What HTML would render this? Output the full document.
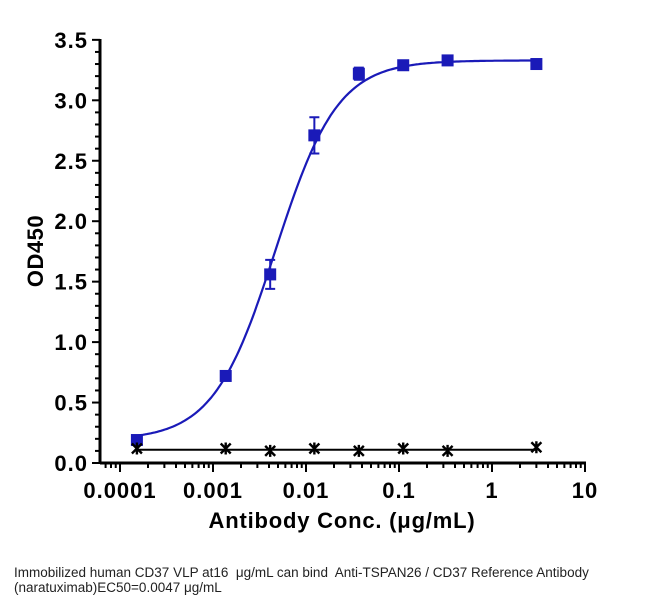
<!DOCTYPE html>
<html><head><meta charset="utf-8"><style>
body{margin:0;background:#fff;width:660px;height:604px;overflow:hidden;font-family:"Liberation Sans",sans-serif}
svg{position:absolute;left:0;top:0}
.cap{position:absolute;left:14px;top:565px;font-size:13.5px;line-height:15px;color:#222;font-family:"Liberation Sans","Noto Sans CJK SC",sans-serif}
</style></head><body>
<svg width="660" height="604">
<g id="axes"></g><g id="marks"></g>
<text x="342" y="528" text-anchor="middle" font-size="22" font-weight="bold" letter-spacing="0.8">Antibody Conc. (μg/mL)</text>
<text transform="translate(43,251) rotate(-90)" text-anchor="middle" font-size="22" font-weight="bold" letter-spacing="0.5">OD450</text>
</svg>
<div class="cap">Immobilized human CD37 VLP at16&nbsp; μg/mL can bind&nbsp; Anti-TSPAN26 / CD37 Reference Antibody<br>(naratuximab)EC50=0.0047 μg/mL</div>
<script>
const conc=[0.000152,0.00137,0.00412,0.0123,0.037,0.111,0.333,3];
const od=[0.19,0.72,1.56,2.71,3.22,3.29,3.33,3.30];
const err=[0.02,0.03,0.12,0.15,0.05,0.02,0.02,0.02];
const ctrl=[0.12,0.12,0.10,0.12,0.10,0.12,0.10,0.13];
const xTicks=[0.0001,0.001,0.01,0.1,1,10];
const xTickLabels=["0.0001","0.001","0.01","0.1","1","10"];
const yTicks=[0,0.5,1,1.5,2,2.5,3,3.5];
const fitBottom=0.19,fitTop=3.33,fitEC50=0.0047,fitHill=1.3;
const NS="http://www.w3.org/2000/svg";
const X=v=>120+(Math.log10(v)+4)*93;
const Y=v=>463-v*120.9;
function mk(p,t,a){const e=document.createElementNS(NS,t);for(const k in a)e.setAttribute(k,a[k]);p.appendChild(e);return e;}
const ax=document.getElementById('axes'),mg=document.getElementById('marks');
let l=mk(ax,'line',{x1:100,y1:463,x2:586,y2:463,stroke:'#000','stroke-width':3});


l=mk(ax,'line',{x1:100,y1:463,x2:100,y2:39,stroke:'#000','stroke-width':3});


for(let i=0;i<=35;i++){const v=i/10,maj=i%5==0;mk(ax,'line',{x1:maj?92:95,x2:100,y1:Y(v),y2:Y(v),stroke:'#000','stroke-width':2});}
yTicks.forEach(v=>{const t=mk(ax,'text',{x:88,y:Y(v)+8,'text-anchor':'end','font-size':22,'font-weight':'bold','letter-spacing':1});t.textContent=v.toFixed(1);

});
for(let d=-5;d<1;d++)for(let m=1;m<10;m++){const v=m*Math.pow(10,d),x=X(v);if(x<100||x>586)continue;mk(ax,'line',{x1:x,x2:x,y1:463,y2:m==1?472:468,stroke:'#000','stroke-width':2});}
mk(ax,'line',{x1:X(10),x2:X(10),y1:463,y2:472,stroke:'#000','stroke-width':2});
xTicks.forEach((v,i)=>{const t=mk(ax,'text',{x:X(v),y:498,'text-anchor':'middle','font-size':22,'font-weight':'bold','letter-spacing':1});t.textContent=xTickLabels[i];

});
let d='';for(let i=0;i<=200;i++){const lg=Math.log10(conc[0])+i/200*(Math.log10(conc[7])-Math.log10(conc[0])),c=Math.pow(10,lg);const y=fitBottom+(fitTop-fitBottom)/(1+Math.pow(fitEC50/c,fitHill));d+=(i?'L':'M')+X(c).toFixed(1)+' '+Y(y).toFixed(1);}
const cv=mk(mg,'path',{d:d,fill:'none',stroke:'#1a1ab8','stroke-width':2.2});


const cl=mk(mg,'line',{x1:X(conc[0]),x2:X(conc[7]),y1:Y(0.11),y2:Y(0.11),stroke:'#000','stroke-width':2});


conc.forEach((c,i)=>{const x=X(c);
 if(err[i]>0.04){const a=Y(od[i]+err[i]),b=Y(od[i]-err[i]);mk(mg,'path',{d:`M${x} ${a}V${b}M${x-5} ${a}H${x+5}M${x-5} ${b}H${x+5}`,stroke:'#1a1ab8','stroke-width':2,fill:'none'});}
 const r=mk(mg,'rect',{x:x-6,y:Y(od[i])-6,width:12,height:12,fill:'#1a1ab8'});
 
 
 const y=Y(ctrl[i]);
 const s=mk(mg,'path',{d:`M${x-5} ${y-5}L${x+5} ${y+5}M${x+5} ${y-5}L${x-5} ${y+5}M${x} ${y-6}V${y+6}`,stroke:'#000','stroke-width':2.4,fill:'none'});
 
 
});
</script>
</body></html>
